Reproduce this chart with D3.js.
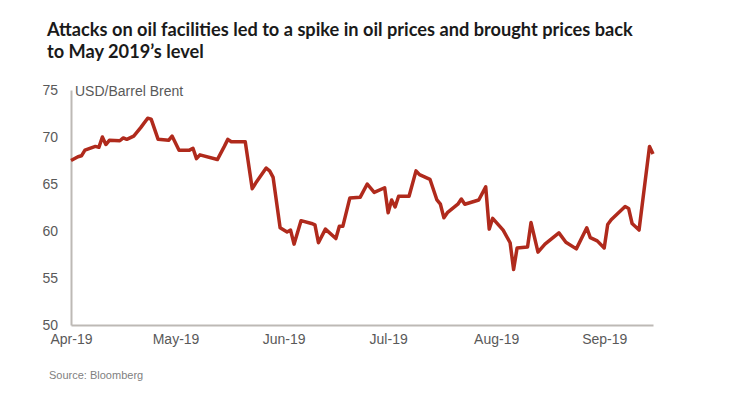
<script src="https://cdn.jsdelivr.net/npm/d3@7"></script>

<style>
  body { margin: 0; background: #ffffff; }
  .tick text { fill: #595959; font-family: 'Liberation Sans', Arial, sans-serif; font-size: 14px; }
  .axis .domain { stroke: #bdb9b5; stroke-width: 2px; }
</style>

<svg id="chart"></svg>

<script>
const WIDTH  = 741;
const HEIGHT = 398;
const MARGIN = { top: 90, right: 88, bottom: 73, left: 71 };

const titleLines = [
  'Attacks on oil facilities led to a spike in oil prices and brought prices back',
  'to May 2019\u2019s level'
];
const unitLabel   = 'USD/Barrel Brent';
const sourceLabel = 'Source: Bloomberg';

const yTicks     = [50, 55, 60, 65, 70, 75];
const monthTicks = ['2019-04-01', '2019-05-01', '2019-06-01', '2019-07-01', '2019-08-01', '2019-09-01'];

// Brent
const dates = [
  '2019-04-01','2019-04-03','2019-04-04','2019-04-05','2019-04-08','2019-04-09','2019-04-10','2019-04-11',
  '2019-04-12','2019-04-15','2019-04-16','2019-04-17','2019-04-19','2019-04-21','2019-04-23','2019-04-24',
  '2019-04-26','2019-04-29','2019-04-30','2019-05-02','2019-05-05','2019-05-06','2019-05-07','2019-05-08',
  '2019-05-13','2019-05-15','2019-05-16','2019-05-17','2019-05-21','2019-05-23','2019-05-24','2019-05-27',
  '2019-05-28','2019-05-29','2019-05-31','2019-06-02','2019-06-03','2019-06-04','2019-06-06','2019-06-09',
  '2019-06-10','2019-06-11','2019-06-13','2019-06-16','2019-06-17','2019-06-18','2019-06-20','2019-06-23',
  '2019-06-25','2019-06-27','2019-06-30','2019-07-01','2019-07-02','2019-07-03','2019-07-04','2019-07-07',
  '2019-07-09','2019-07-10','2019-07-13','2019-07-15','2019-07-16','2019-07-17','2019-07-18','2019-07-21',
  '2019-07-22','2019-07-23','2019-07-27','2019-07-29','2019-07-30','2019-07-31','2019-08-03','2019-08-05',
  '2019-08-06','2019-08-07','2019-08-10','2019-08-11','2019-08-13','2019-08-15','2019-08-19','2019-08-21',
  '2019-08-24','2019-08-27','2019-08-28','2019-08-30','2019-09-01','2019-09-02','2019-09-03','2019-09-07',
  '2019-09-08','2019-09-09','2019-09-11','2019-09-14','2019-09-15'
];
const prices = [
  67.5, 67.9, 68.0, 68.6, 69.0, 68.9, 70.0, 69.2,
  69.65, 69.6, 69.9, 69.75, 70.1, 71.0, 72.0, 71.9,
  69.75, 69.65, 70.1, 68.6, 68.6, 68.8, 67.7, 68.1,
  67.6, 69.0, 69.75, 69.5, 69.5, 64.5, 65.1, 66.7,
  66.4, 65.7, 60.35, 59.9, 60.1, 58.6, 61.1, 60.8,
  60.65, 58.75, 60.2, 59.2, 60.5, 60.5, 63.5, 63.6,
  65.0, 64.1, 64.6, 61.95, 63.3, 62.55, 63.7, 63.7,
  66.4, 66.0, 65.5, 63.3, 62.85, 61.4, 61.95, 62.85,
  63.4, 62.85, 63.3, 64.7, 60.2, 61.35, 60.1, 58.75,
  55.9, 58.2, 58.3, 60.9, 57.75, 58.6, 59.8, 58.8,
  58.1, 60.35, 59.3, 58.95, 58.2, 60.7, 61.2, 62.6,
  62.4, 60.8, 60.1, 69.0, 68.2
];

const parse = d3.timeParse('%Y-%m-%d');
const series = dates.map((d, i) => ({ date: parse(d), value: prices[i] }));

const svg = d3.select('#chart')
  .attr('width', WIDTH)
  .attr('height', HEIGHT);

// title
svg.append('g')
  .selectAll('text')
  .data(titleLines)
  .join('text')
    .attr('x', 47)
    .attr('y', (d, i) => 36 + i * 22)
    .attr('font-family', 'Lato, sans-serif')
    .attr('font-weight', 700)
    .attr('font-size', 18.2)
    .attr('fill', '#1a1a1a')
    .text(d => d);

const x = d3.scaleTime()
  .domain([parse('2019-04-01'), parse('2019-09-15')])
  .range([MARGIN.left, WIDTH - MARGIN.right]);

const y = d3.scaleLinear()
  .domain([50, 75])
  .range([HEIGHT - MARGIN.bottom, MARGIN.top]);

const xAxis = d3.axisBottom(x)
  .tickValues(monthTicks.map(parse))
  .tickFormat(d3.timeFormat('%b-%y'))
  .tickSize(0)
  .tickPadding(9);

const yAxis = d3.axisLeft(y)
  .tickValues(yTicks)
  .tickSize(0)
  .tickPadding(13);

svg.append('g')
  .attr('class', 'axis')
  .attr('transform', 'translate(0,' + (HEIGHT - MARGIN.bottom) + ')')
  .call(xAxis);

svg.append('g')
  .attr('class', 'axis')
  .attr('transform', 'translate(' + MARGIN.left + ',0)')
  .call(yAxis);

svg.append('text')
  .attr('x', MARGIN.left + 4)
  .attr('y', MARGIN.top + 6)
  .attr('font-family', "'Liberation Sans', Arial, sans-serif")
  .attr('font-size', 14)
  .attr('fill', '#595959')
  .text(unitLabel);

const line = d3.line()
  .x(d => x(d.date))
  .y(d => y(d.value));

svg.append('path')
  .datum(series)
  .attr('fill', 'none')
  .attr('stroke', '#b02a1c')
  .attr('stroke-width', 3.5)
  .attr('stroke-linejoin', 'round')
  .attr('d', line);

svg.append('text')
  .attr('x', 49)
  .attr('y', 379)
  .attr('font-family', "'Liberation Sans', Arial, sans-serif")
  .attr('font-size', 11)
  .attr('fill', '#7f7f7f')
  .text(sourceLabel);
</script>
